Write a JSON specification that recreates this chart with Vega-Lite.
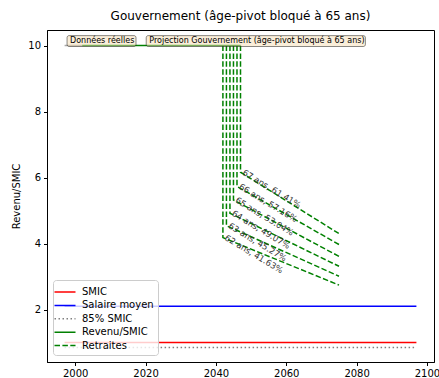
{
  "$schema": "https://vega.github.io/schema/vega-lite/v6.json",
  "width": 387,
  "height": 332,
  "autosize": {"type": "none"},
  "padding": {"left": 47, "top": 30, "right": 5, "bottom": 16},
  "title": {"text": "Gouvernement (âge-pivot bloqué à 65 ans)", "font": "DejaVu Sans", "fontSize": 12, "fontWeight": "normal", "color": "black", "offset": 7},
  "config": {
    "font": "DejaVu Sans",
    "view": {"stroke": "black", "strokeWidth": 1},
    "axis": {"grid": false, "labelFont": "DejaVu Sans", "labelFontSize": 10, "labelColor": "black", "tickColor": "black", "tickSize": 3.5, "domainColor": "black", "labelPadding": 3, "titleFont": "DejaVu Sans", "titleFontSize": 10, "titleFontWeight": "normal", "titleColor": "black"},
    "legend": {"orient": "none", "legendX": 6, "legendY": 250, "labelFont": "DejaVu Sans", "labelFontSize": 10, "labelColor": "black", "symbolType": "M-1.5,0H1.5", "symbolSize": 196, "symbolStrokeWidth": 1.5, "fillColor": "rgba(255,255,255,0.8)", "strokeColor": "#cccccc", "cornerRadius": 3, "padding": 4, "rowPadding": 0.4, "labelOffset": 9}
  },
  "datasets": {
    "lines": [
      {"series": "SMIC", "id": "smic", "year": 1997, "value": 1.0, "step": 0},
      {"series": "SMIC", "id": "smic", "year": 2097, "value": 1.0, "step": 1},
      {"series": "Salaire moyen", "id": "sal", "year": 1997, "value": 2.1, "step": 0},
      {"series": "Salaire moyen", "id": "sal", "year": 2097, "value": 2.1, "step": 1},
      {"series": "85% SMIC", "id": "s85", "year": 1997, "value": 0.85, "step": 0},
      {"series": "85% SMIC", "id": "s85", "year": 2097, "value": 0.85, "step": 1},
      {"series": "Revenu/SMIC", "id": "rev", "year": 2002, "value": 10, "step": 0},
      {"series": "Revenu/SMIC", "id": "rev", "year": 2047, "value": 10, "step": 1},
      {"series": "Retraites", "id": "r62", "year": 2042, "value": 10, "step": 0},
      {"series": "Retraites", "id": "r62", "year": 2042, "value": 4.18, "step": 1, "label": "62 ans, 41.63%"},
      {"series": "Retraites", "id": "r62", "year": 2075, "value": 2.74, "step": 2},
      {"series": "Retraites", "id": "r63", "year": 2043, "value": 10, "step": 0},
      {"series": "Retraites", "id": "r63", "year": 2043, "value": 4.54, "step": 1, "label": "63 ans, 45.27%"},
      {"series": "Retraites", "id": "r63", "year": 2075, "value": 3.01, "step": 2},
      {"series": "Retraites", "id": "r64", "year": 2044, "value": 10, "step": 0},
      {"series": "Retraites", "id": "r64", "year": 2044, "value": 4.92, "step": 1, "label": "64 ans, 49.07%"},
      {"series": "Retraites", "id": "r64", "year": 2075, "value": 3.31, "step": 2},
      {"series": "Retraites", "id": "r65", "year": 2045, "value": 10, "step": 0},
      {"series": "Retraites", "id": "r65", "year": 2045, "value": 5.32, "step": 1, "label": "65 ans, 53.04%"},
      {"series": "Retraites", "id": "r65", "year": 2075, "value": 3.61, "step": 2},
      {"series": "Retraites", "id": "r66", "year": 2046, "value": 10, "step": 0},
      {"series": "Retraites", "id": "r66", "year": 2046, "value": 5.73, "step": 1, "label": "66 ans, 57.16%"},
      {"series": "Retraites", "id": "r66", "year": 2075, "value": 3.97, "step": 2},
      {"series": "Retraites", "id": "r67", "year": 2047, "value": 10, "step": 0},
      {"series": "Retraites", "id": "r67", "year": 2047, "value": 6.16, "step": 1, "label": "67 ans, 61.41%"},
      {"series": "Retraites", "id": "r67", "year": 2075, "value": 4.30, "step": 2}
    ],
    "boxes": [
      {"label": "Données réelles", "x0": 1997.7, "x1": 2017.3},
      {"label": "Projection Gouvernement (âge-pivot bloqué à 65 ans)", "x0": 2020.2, "x1": 2082.5}
    ],
    "gray": [
      {"year": 1997, "value": 10},
      {"year": 2002, "value": 10}
    ]
  },
  "layer": [
    {
      "data": {"name": "gray"},
      "mark": {"type": "line", "color": "#aaaaaa", "strokeWidth": 1.5, "clip": true},
      "encoding": {
        "x": {"field": "year", "type": "quantitative", "scale": {"domain": [1992, 2102], "nice": false, "zero": false}, "axis": {"values": [2000, 2020, 2040, 2060, 2080, 2100], "format": "d", "title": null}},
        "y": {"field": "value", "type": "quantitative", "scale": {"domain": [0.41, 10.47], "nice": false, "zero": false}, "axis": {"values": [2, 4, 6, 8, 10], "title": "Revenu/SMIC", "titlePadding": 6}}
      }
    },
    {
      "data": {"name": "lines"},
      "mark": {"type": "line", "strokeWidth": 1.5, "clip": true},
      "encoding": {
        "x": {"field": "year", "type": "quantitative", "scale": {"domain": [1992, 2102], "nice": false, "zero": false}},
        "y": {"field": "value", "type": "quantitative", "scale": {"domain": [0.41, 10.47], "nice": false, "zero": false}},
        "color": {"field": "series", "type": "nominal", "scale": {"domain": ["SMIC", "Salaire moyen", "85% SMIC", "Revenu/SMIC", "Retraites"], "range": ["#ff0000", "#0000ff", "#808080", "#008000", "#008000"]}, "legend": {"title": null}},
        "strokeDash": {"field": "series", "type": "nominal", "scale": {"domain": ["SMIC", "Salaire moyen", "85% SMIC", "Revenu/SMIC", "Retraites"], "range": [[1, 0], [1, 0], [1.5, 2.5], [1, 0], [5.5, 2.4]]}, "legend": {"title": null}},
        "detail": {"field": "id"},
        "order": {"field": "step", "type": "quantitative"}
      }
    },
    {
      "mark": {"type": "rule", "color": "#808080", "strokeWidth": 1.5, "strokeDash": [5.5, 2.4]},
      "encoding": {
        "x": {"datum": 2019, "type": "quantitative", "scale": {"domain": [1992, 2102], "nice": false, "zero": false}}
      }
    },
    {
      "data": {"name": "lines"},
      "transform": [{"filter": "datum.label != null"}],
      "mark": {"type": "text", "align": "left", "baseline": "alphabetic", "angle": 31, "fontSize": 8.5, "font": "DejaVu Sans", "color": "#333333", "dx": 2, "dy": 1},
      "encoding": {
        "x": {"field": "year", "type": "quantitative", "scale": {"domain": [1992, 2102], "nice": false, "zero": false}},
        "y": {"field": "value", "type": "quantitative", "scale": {"domain": [0.41, 10.47], "nice": false, "zero": false}},
        "text": {"field": "label"}
      }
    },
    {
      "data": {"name": "boxes"},
      "mark": {"type": "rect", "fill": "#f5deb3", "fillOpacity": 0.5, "stroke": "#000000", "strokeOpacity": 0.45, "strokeWidth": 1, "cornerRadius": 2},
      "encoding": {
        "x": {"field": "x0", "type": "quantitative", "scale": {"domain": [1992, 2102], "nice": false, "zero": false}},
        "x2": {"field": "x1"},
        "y": {"datum": 10.3, "type": "quantitative", "scale": {"domain": [0.41, 10.47], "nice": false, "zero": false}},
        "y2": {"datum": 9.97}
      }
    },
    {
      "data": {"name": "boxes"},
      "mark": {"type": "text", "align": "left", "baseline": "middle", "fontSize": 8, "font": "DejaVu Sans", "color": "black", "dx": 3},
      "encoding": {
        "x": {"field": "x0", "type": "quantitative", "scale": {"domain": [1992, 2102], "nice": false, "zero": false}},
        "y": {"datum": 10.135, "type": "quantitative", "scale": {"domain": [0.41, 10.47], "nice": false, "zero": false}},
        "text": {"field": "label"}
      }
    }
  ]
}
